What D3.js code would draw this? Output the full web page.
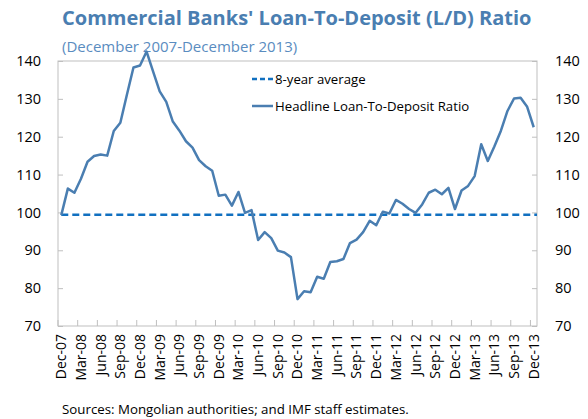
<!DOCTYPE html>
<html>
<head>
<meta charset="utf-8">
<script src="https://cdn.jsdelivr.net/npm/d3@7"></script>
<style>
  body { margin: 0; background: #fff; }
  svg { display: block; font-family: "Open Sans", "Noto Sans", sans-serif; }
</style>
</head>
<body>
<div id="chart"></div>
<script>
// monthly categories Dec-07 .. Dec-13
const months = ['Dec','Jan','Feb','Mar','Apr','May','Jun','Jul','Aug','Sep','Oct','Nov']
const categories = d3.range(73).map(i => {
  const m = months[i % 12]
  const yr = 7 + Math.floor((i + 11) / 12)
  return m + '-' + String(yr).padStart(2, '0')
})

// headline L/D ratio
const ldRatio = [
  99.3, 106.3, 105.2, 108.9, 113.4, 114.9, 115.3, 115.0, 121.5, 123.7, 131.1, 138.3,
  138.8, 142.5, 137.2, 132.0, 129.2, 124.0, 121.6, 118.8, 117.1, 113.8, 112.2, 111.0,
  104.4, 104.7, 101.8, 105.4, 99.9, 100.6, 92.7, 94.8, 93.2, 89.9, 89.4, 88.2,
  77.1, 79.2, 78.9, 83.0, 82.5, 86.9, 87.1, 87.7, 91.9, 92.8, 94.8, 97.8,
  96.6, 100.2, 99.7, 103.3, 102.3, 100.9, 99.9, 102.1, 105.2, 106.0, 104.8, 106.5,
  100.9, 105.8, 107.0, 109.6, 118.0, 113.6, 117.4, 121.6, 126.8, 130.1, 130.3, 127.9,
  122.5
]
const average = 99.4

const yTicks = [70, 80, 90, 100, 110, 120, 130, 140]
const legendLabels = ['8-year average', 'Headline Loan-To-Deposit Ratio']

const width = 588, height = 419
const margin = {top: 61, right: 51, bottom: 93, left: 58}
const w = width - margin.left - margin.right
const h = height - margin.top - margin.bottom

const lineColor = '#4a7eb1'
const avgColor = '#1170c0'
const frameColor = '#bfbfbf'

const svg = d3.select('#chart').append('svg')
  .attr('width', width)
  .attr('height', height)

svg.append('text')
  .attr('x', 62).attr('y', 25)
  .attr('fill', '#4a7eb1')
  .style('font-size', '20px')
  .style('font-weight', 'bold')
  .text("Commercial Banks' Loan-To-Deposit (L/D) Ratio")

svg.append('text')
  .attr('x', 62).attr('y', 52)
  .attr('fill', '#5a8cc0')
  .style('font-size', '15px')
  .text('(December 2007-December 2013)')

const g = svg.append('g').attr('transform', `translate(${margin.left},${margin.top})`)

const x = d3.scaleBand().domain(categories).range([0, w])
const cx = d => x(d) + x.bandwidth() / 2
const y = d3.scaleLinear().domain([70, 140]).range([h, 0])

// frame
g.append('rect')
  .attr('width', w).attr('height', h)
  .attr('fill', 'none')
  .attr('stroke', frameColor)

// y axes, ticks pointing inward
const yLeft = g.append('g')
  .call(d3.axisRight(y).tickValues(yTicks).tickSize(5).tickFormat(''))
const yRight = g.append('g').attr('transform', `translate(${w},0)`)
  .call(d3.axisLeft(y).tickValues(yTicks).tickSize(5).tickFormat(''))
;[yLeft, yRight].forEach(a => {
  a.select('.domain').remove()
  a.selectAll('line').attr('stroke', frameColor)
})

g.selectAll('.ylab-l').data(yTicks).enter().append('text')
  .attr('x', -17).attr('y', d => y(d)).attr('dy', '0.35em')
  .attr('text-anchor', 'end')
  .style('font-size', '14.5px')
  .text(d => d)

g.selectAll('.ylab-r').data(yTicks).enter().append('text')
  .attr('x', w + 18).attr('y', d => y(d)).attr('dy', '0.35em')
  .style('font-size', '14.5px')
  .text(d => d)

// x ticks every 3 months, between categories
const tickCats = categories.filter((d, i) => i % 3 === 0)
g.selectAll('.xtick').data(tickCats).enter().append('line')
  .attr('x1', d => x(d)).attr('x2', d => x(d))
  .attr('y1', h).attr('y2', h - 6)
  .attr('stroke', frameColor)

g.selectAll('.xlab').data(tickCats).enter().append('text')
  .attr('transform', d => `translate(${cx(d)},${h + 8}) rotate(-90)`)
  .attr('text-anchor', 'end')
  .attr('dy', '0.35em')
  .style('font-size', '14px')
  .text(d => d)

// average line
g.append('line')
  .attr('x1', cx(categories[0])).attr('x2', w)
  .attr('y1', y(average)).attr('y2', y(average))
  .attr('stroke', avgColor)
  .attr('stroke-width', 2.5)
  .attr('stroke-dasharray', '7,4')

// ratio line
const line = d3.line()
  .x((d, i) => cx(categories[i]))
  .y(d => y(d))

g.append('path')
  .datum(ldRatio)
  .attr('d', line)
  .attr('fill', 'none')
  .attr('stroke', lineColor)
  .attr('stroke-width', 2.5)
  .attr('stroke-linejoin', 'round')

// legend
const legend = svg.append('g').attr('transform', 'translate(252,79)')
legendLabels.forEach((lab, i) => {
  const row = legend.append('g').attr('transform', `translate(0,${i * 27})`)
  row.append('line')
    .attr('x1', 0).attr('x2', 21)
    .attr('stroke', i === 0 ? avgColor : lineColor)
    .attr('stroke-width', 2.5)
    .attr('stroke-dasharray', i === 0 ? '5,3' : null)
  row.append('text')
    .attr('x', 23).attr('dy', '0.35em')
    .style('font-size', '13.2px')
    .text(lab)
})

svg.append('text')
  .attr('x', 62).attr('y', 414)
  .style('font-size', '13.3px')
  .text('Sources: Mongolian authorities; and IMF staff estimates.')
</script>
</body>
</html>
